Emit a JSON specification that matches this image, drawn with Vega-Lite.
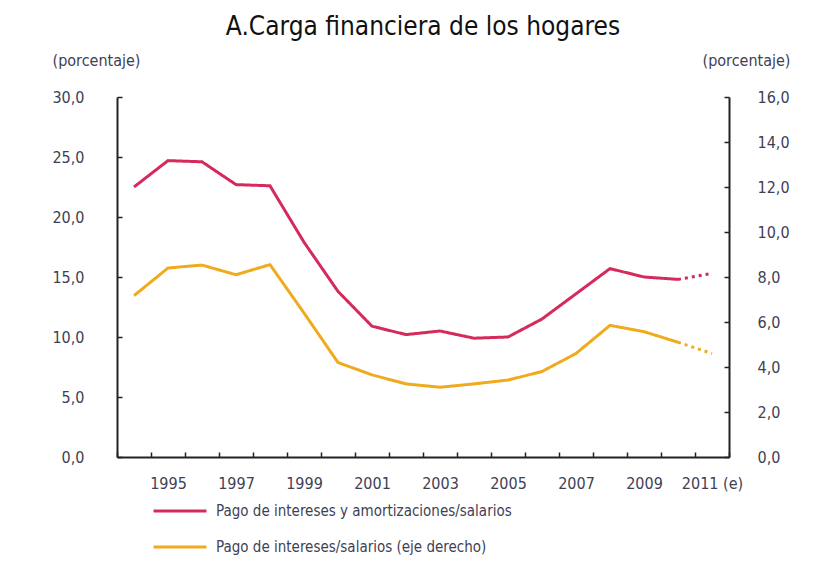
{
  "$schema": "https://vega.github.io/schema/vega-lite/v6.json",
  "width": 612,
  "height": 360,
  "autosize": "none",
  "padding": {"left": 117, "top": 97, "right": 89, "bottom": 104},
  "background": "white",
  "title": {
    "text": "A.Carga financiera de los hogares",
    "font": "Liberation Sans Narrow, DejaVu Sans Condensed",
    "fontSize": 26,
    "fontWeight": "normal",
    "color": "#111111",
    "anchor": "middle",
    "frame": "group",
    "offset": 12
  },
  "config": {
    "view": {"stroke": null},
    "axis": {
      "grid": false,
      "domainColor": "#222222",
      "domainWidth": 2,
      "tickColor": "#222222",
      "tickWidth": 1.5,
      "tickSize": -5,
      "labelFont": "Liberation Sans Narrow, DejaVu Sans Condensed",
      "labelFontSize": 16,
      "labelColor": "#403f55",
      "titleFont": "Liberation Sans Narrow, DejaVu Sans Condensed",
      "titleFontSize": 16,
      "titleFontWeight": "normal",
      "titleColor": "#403f55"
    }
  },
  "datasets": {
    "puntos": [
      {"anio": "1994", "serie": "Pago de intereses y amortizaciones/salarios", "tramo": "hist", "valor": 22.5},
      {"anio": "1995", "serie": "Pago de intereses y amortizaciones/salarios", "tramo": "hist", "valor": 24.7},
      {"anio": "1996", "serie": "Pago de intereses y amortizaciones/salarios", "tramo": "hist", "valor": 24.6},
      {"anio": "1997", "serie": "Pago de intereses y amortizaciones/salarios", "tramo": "hist", "valor": 22.7},
      {"anio": "1998", "serie": "Pago de intereses y amortizaciones/salarios", "tramo": "hist", "valor": 22.6},
      {"anio": "1999", "serie": "Pago de intereses y amortizaciones/salarios", "tramo": "hist", "valor": 17.9},
      {"anio": "2000", "serie": "Pago de intereses y amortizaciones/salarios", "tramo": "hist", "valor": 13.8},
      {"anio": "2001", "serie": "Pago de intereses y amortizaciones/salarios", "tramo": "hist", "valor": 10.9},
      {"anio": "2002", "serie": "Pago de intereses y amortizaciones/salarios", "tramo": "hist", "valor": 10.2},
      {"anio": "2003", "serie": "Pago de intereses y amortizaciones/salarios", "tramo": "hist", "valor": 10.5},
      {"anio": "2004", "serie": "Pago de intereses y amortizaciones/salarios", "tramo": "hist", "valor": 9.9},
      {"anio": "2005", "serie": "Pago de intereses y amortizaciones/salarios", "tramo": "hist", "valor": 10.0},
      {"anio": "2006", "serie": "Pago de intereses y amortizaciones/salarios", "tramo": "hist", "valor": 11.5},
      {"anio": "2007", "serie": "Pago de intereses y amortizaciones/salarios", "tramo": "hist", "valor": 13.6},
      {"anio": "2008", "serie": "Pago de intereses y amortizaciones/salarios", "tramo": "hist", "valor": 15.7},
      {"anio": "2009", "serie": "Pago de intereses y amortizaciones/salarios", "tramo": "hist", "valor": 15.0},
      {"anio": "2010", "serie": "Pago de intereses y amortizaciones/salarios", "tramo": "hist", "valor": 14.8},
      {"anio": "2010", "serie": "Pago de intereses y amortizaciones/salarios", "tramo": "proy", "valor": 14.8},
      {"anio": "2011", "serie": "Pago de intereses y amortizaciones/salarios", "tramo": "proy", "valor": 15.3},
      {"anio": "1994", "serie": "Pago de intereses/salarios (eje derecho)", "tramo": "hist", "valor": 7.17},
      {"anio": "1995", "serie": "Pago de intereses/salarios (eje derecho)", "tramo": "hist", "valor": 8.4},
      {"anio": "1996", "serie": "Pago de intereses/salarios (eje derecho)", "tramo": "hist", "valor": 8.53},
      {"anio": "1997", "serie": "Pago de intereses/salarios (eje derecho)", "tramo": "hist", "valor": 8.1},
      {"anio": "1998", "serie": "Pago de intereses/salarios (eje derecho)", "tramo": "hist", "valor": 8.55},
      {"anio": "1999", "serie": "Pago de intereses/salarios (eje derecho)", "tramo": "hist", "valor": 6.4},
      {"anio": "2000", "serie": "Pago de intereses/salarios (eje derecho)", "tramo": "hist", "valor": 4.2},
      {"anio": "2001", "serie": "Pago de intereses/salarios (eje derecho)", "tramo": "hist", "valor": 3.65},
      {"anio": "2002", "serie": "Pago de intereses/salarios (eje derecho)", "tramo": "hist", "valor": 3.25},
      {"anio": "2003", "serie": "Pago de intereses/salarios (eje derecho)", "tramo": "hist", "valor": 3.1},
      {"anio": "2004", "serie": "Pago de intereses/salarios (eje derecho)", "tramo": "hist", "valor": 3.25},
      {"anio": "2005", "serie": "Pago de intereses/salarios (eje derecho)", "tramo": "hist", "valor": 3.42},
      {"anio": "2006", "serie": "Pago de intereses/salarios (eje derecho)", "tramo": "hist", "valor": 3.8},
      {"anio": "2007", "serie": "Pago de intereses/salarios (eje derecho)", "tramo": "hist", "valor": 4.6},
      {"anio": "2008", "serie": "Pago de intereses/salarios (eje derecho)", "tramo": "hist", "valor": 5.85},
      {"anio": "2009", "serie": "Pago de intereses/salarios (eje derecho)", "tramo": "hist", "valor": 5.57},
      {"anio": "2010", "serie": "Pago de intereses/salarios (eje derecho)", "tramo": "hist", "valor": 5.1},
      {"anio": "2010", "serie": "Pago de intereses/salarios (eje derecho)", "tramo": "proy", "valor": 5.1},
      {"anio": "2011", "serie": "Pago de intereses/salarios (eje derecho)", "tramo": "proy", "valor": 4.6}
    ]
  },
  "data": {"name": "puntos"},
  "encoding": {
    "x": {
      "field": "anio",
      "type": "ordinal",
      "bandPosition": 0.5,
      "scale": {"type": "band", "paddingInner": 0, "paddingOuter": 0},
      "axis": {
        "title": null,
        "tickBand": "extent",
        "labelAngle": 0,
        "labelPadding": 23,
        "labelExpr": "datum.value == '2011' ? '2011 (e)' : (toNumber(datum.value) % 2 == 1 ? datum.value : '')"
      }
    },
    "color": {
      "field": "serie",
      "type": "nominal",
      "scale": {
        "domain": ["Pago de intereses y amortizaciones/salarios", "Pago de intereses/salarios (eje derecho)"],
        "range": ["#d42a5c", "#f0aa1e"]
      },
      "legend": {
        "title": null,
        "orient": "none",
        "legendX": 35,
        "legendY": 386,
        "direction": "vertical",
        "symbolType": "stroke",
        "symbolSize": 2800,
        "symbolStrokeWidth": 3,
        "labelFont": "Liberation Sans Narrow, DejaVu Sans Condensed",
        "labelFontSize": 15,
        "labelColor": "#403f55",
        "labelLimit": 0,
        "labelOffset": 8,
        "rowPadding": -25
      }
    },
    "strokeDash": {
      "field": "tramo",
      "type": "nominal",
      "scale": {"domain": ["hist", "proy"], "range": [[1, 0], [3, 4]]},
      "legend": null
    }
  },
  "layer": [
    {
      "transform": [{"filter": "datum.serie == 'Pago de intereses y amortizaciones/salarios'"}],
      "mark": {"type": "line", "strokeWidth": 3},
      "encoding": {
        "y": {
          "field": "valor",
          "type": "quantitative",
          "scale": {"domain": [0, 30], "nice": false},
          "axis": {
            "orient": "left",
            "values": [0, 5, 10, 15, 20, 25, 30],
            "labelExpr": "replace(format(datum.value, '.1f'), '.', ',')",
            "labelPadding": 38,
            "title": "(porcentaje)",
            "titleAngle": 0,
            "titleAlign": "center",
            "titleBaseline": "middle",
            "titleX": -21,
            "titleY": -37
          }
        }
      }
    },
    {
      "transform": [{"filter": "datum.serie == 'Pago de intereses/salarios (eje derecho)'"}],
      "mark": {"type": "line", "strokeWidth": 3},
      "encoding": {
        "y": {
          "field": "valor",
          "type": "quantitative",
          "scale": {"domain": [0, 16], "nice": false},
          "axis": {
            "orient": "right",
            "values": [0, 2, 4, 6, 8, 10, 12, 14, 16],
            "labelExpr": "replace(format(datum.value, '.1f'), '.', ',')",
            "labelPadding": 33,
            "title": "(porcentaje)",
            "titleAngle": 0,
            "titleAlign": "center",
            "titleBaseline": "middle",
            "titleX": 17,
            "titleY": -37
          }
        }
      }
    }
  ],
  "resolve": {"scale": {"y": "independent"}}
}
